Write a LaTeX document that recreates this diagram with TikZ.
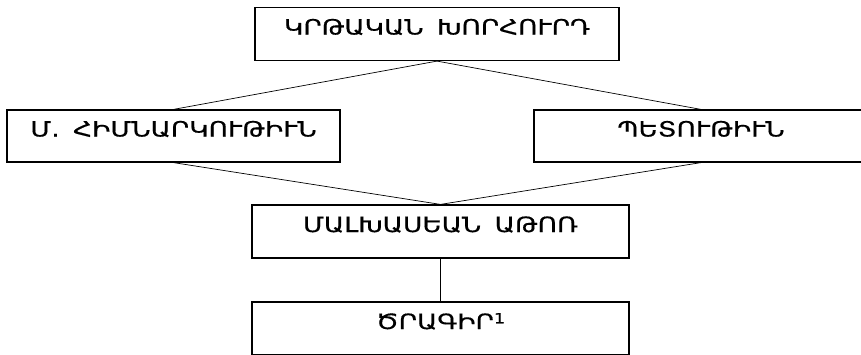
\documentclass[tikz,border=0pt]{standalone}
\usepackage{fontspec}
\setmainfont{DejaVu Sans}
\newfontfamily\armfont[FakeStretch=1.26,FakeBold=0.5,WordSpace=1.6]{DejaVu Sans}
\begin{document}
\begin{tikzpicture}[x=1pt,y=-1pt,
  box/.style={draw=black, line width=1.2pt, rectangle, inner sep=0pt,
    font=\armfont\fontsize{21}{24}\selectfont, text height=15pt, text depth=14pt},
  link/.style={draw=black, line width=0.7pt}]
\useasboundingbox (0,0) rectangle (861,354);
\clip (0,0) rectangle (861,354);
\node[box, minimum width=364pt, minimum height=53pt] (top) at (437,34) {ԿՐԹԱԿԱՆ ԽՈՐՀՈՒՐԴ};
\node[box, minimum width=333pt, minimum height=52pt] (left) at (173.5,136) {Մ. ՀԻՄՆԱՐԿՈՒԹԻՒՆ};
\node[box, minimum width=334pt, minimum height=52pt] (right) at (701,136) {ՊԵՏՈՒԹԻՒՆ};
\node[box, minimum width=377pt, minimum height=53pt] (mid) at (440.5,231.5) {ՄԱԼԽԱՍԵԱՆ ԱԹՈՌ};
\node[box, minimum width=377pt, minimum height=53pt] (bot) at (440.5,328.5) {ԾՐԱԳԻՐ\raisebox{0.5ex}{\fontsize{14}{16}\selectfont 1}};
\draw[link] (top.south) -- (left.north);
\draw[link] (top.south) -- (right.north);
\draw[link] (left.south) -- (mid.north);
\draw[link] (right.south) -- (mid.north);
\draw[link] (mid.south) -- (bot.north);
\end{tikzpicture}
\end{document}
